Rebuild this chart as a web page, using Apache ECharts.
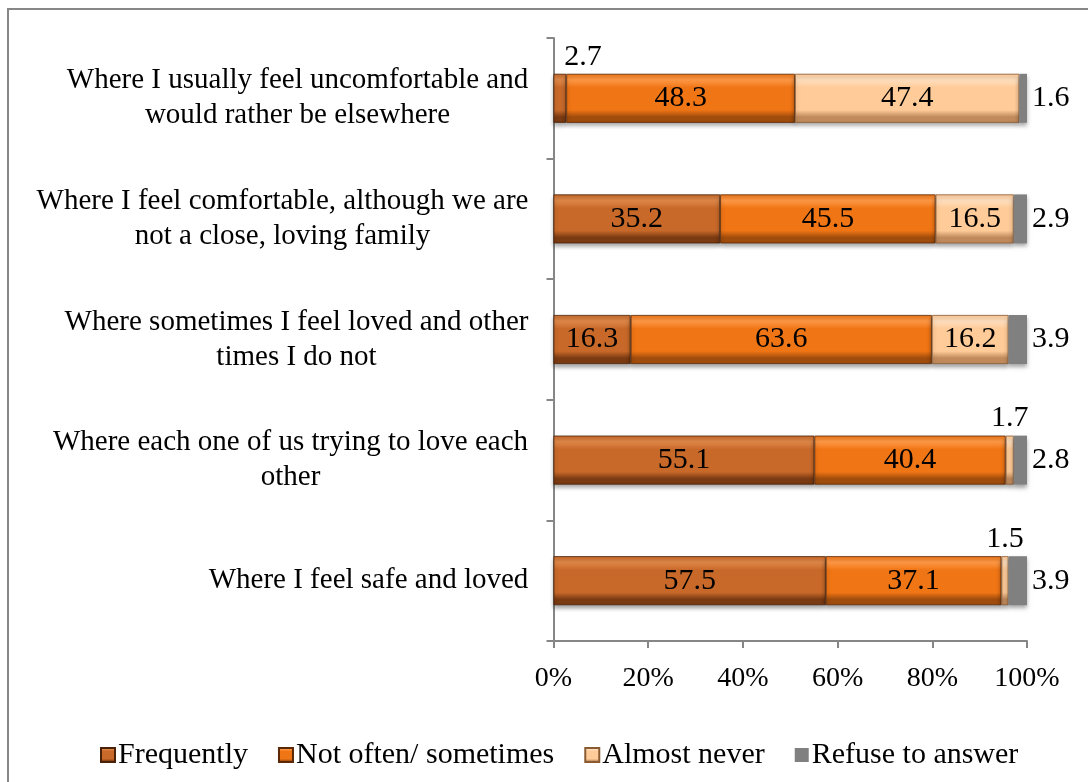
<!DOCTYPE html>
<html>
<head>
<meta charset="utf-8">
<script src="https://cdn.jsdelivr.net/npm/echarts@6/dist/echarts.min.js"></script>
<style>
  html, body { margin: 0; padding: 0; background: #fff; }
  #main { width: 1088px; height: 782px; }
</style>
</head>
<body>
<div id="main"></div>
<script>
// categories, top to bottom
const categories = [
  'Where I usually feel uncomfortable and\nwould rather be elsewhere',
  'Where I feel comfortable, although we are\nnot a close, loving family',
  'Where sometimes I feel loved and other\ntimes I do not',
  'Where each one of us trying to love each\nother',
  'Where I feel safe and loved'
]
const frequently = [2.7, 35.2, 16.3, 55.1, 57.5]
const notOften = [48.3, 45.5, 63.6, 40.4, 37.1]
const almostNever = [47.4, 16.5, 16.2, 1.7, 1.5]
const refuse = [1.6, 2.9, 3.9, 2.8, 3.9]
const xTicks = [0, 20, 40, 60, 80, 100]

const FONT = "'Liberation Serif', 'Times New Roman', serif"

// measure label lines so two-line labels are centred inside a right aligned block
const ctx = document.createElement('canvas').getContext('2d')
ctx.font = '29px ' + FONT
const rich = {}
categories.forEach((c, i) => {
  const w = Math.max(...c.split('\n').map(l => ctx.measureText(l).width))
  rich['r' + i] = { width: Math.ceil(w), align: 'center', fontSize: 29, fontFamily: FONT, color: '#000', lineHeight: 35 }
})

function bevel(light, base, dark) {
  return new echarts.graphic.LinearGradient(0, 0, 0, 1, [
    { offset: 0, color: base },
    { offset: 0.12, color: light },
    { offset: 0.28, color: base },
    { offset: 0.74, color: base },
    { offset: 0.88, color: dark },
    { offset: 1, color: dark }
  ])
}

const shadow = { shadowColor: 'rgba(0,0,0,0.35)', shadowBlur: 4, shadowOffsetY: 3 }

const baseLabel = { show: true, position: 'inside', fontSize: 30, fontFamily: FONT, color: '#000' }

const chart = echarts.init(document.getElementById('main'))
chart.setOption({
  animation: false,
  textStyle: { fontFamily: FONT },
  graphic: [{
    type: 'rect',
    shape: { x: 8, y: 9, width: 1200, height: 900 },
    style: { fill: 'none', stroke: '#878787', lineWidth: 2 },
    silent: true
  }],
  grid: { left: 553.5, right: 61, top: 38, bottom: 141 },
  legend: {
    left: 95,
    top: 735,
    icon: 'rect',
    itemWidth: 14,
    itemHeight: 14,
    itemGap: 30,
    textStyle: { fontSize: 30, fontFamily: FONT, color: '#000', padding: [0, 0, 0, -2] },
    data: ['Frequently', 'Not often/ sometimes', 'Almost never', 'Refuse to answer']
  },
  xAxis: {
    type: 'value',
    min: xTicks[0],
    max: xTicks[xTicks.length - 1],
    interval: 20,
    axisLine: { show: true, lineStyle: { color: '#868686', width: 2 } },
    axisTick: { show: true, length: 7, lineStyle: { color: '#868686', width: 2 } },
    splitLine: { show: false },
    axisLabel: { formatter: '{value}%', fontSize: 28, fontFamily: FONT, color: '#000', margin: 24 }
  },
  yAxis: {
    type: 'category',
    inverse: true,
    data: categories,
    axisLine: { show: true, lineStyle: { color: '#868686', width: 2 } },
    axisTick: { show: true, length: 7, lineStyle: { color: '#868686', width: 2 } },
    axisLabel: {
      interval: 0,
      margin: 25,
      formatter: (v, i) => v.split('\n').map(l => '{r' + i + '|' + l + '}').join('\n'),
      rich: rich
    }
  },
  series: [
    {
      name: 'Frequently',
      type: 'bar',
      stack: 'total',
      barWidth: 49,
      itemStyle: Object.assign({ color: bevel('#E0894A', '#C8692A', '#7A3A12'), borderColor: '#4A2208', borderWidth: 0.8 }, shadow),
      label: baseLabel,
      data: frequently.map((v, i) => i === 0
        ? { value: v, label: { position: 'top', distance: 2, offset: [23, 0] } }
        : v)
    },
    {
      name: 'Not often/ sometimes',
      type: 'bar',
      stack: 'total',
      itemStyle: Object.assign({ color: bevel('#FF9A48', '#F07515', '#A04C0C'), borderColor: '#5A2806', borderWidth: 0.8 }, shadow),
      label: baseLabel,
      data: notOften
    },
    {
      name: 'Almost never',
      type: 'bar',
      stack: 'total',
      itemStyle: Object.assign({ color: bevel('#FFE0C0', '#FFCB98', '#C08A5C'), borderColor: '#8A5A32', borderWidth: 0.8 }, shadow),
      label: baseLabel,
      data: almostNever.map(v => v < 5
        ? { value: v, label: { position: 'top', distance: 2 } }
        : v)
    },
    {
      name: 'Refuse to answer',
      type: 'bar',
      stack: 'total',
      itemStyle: Object.assign({ color: '#808080' }, shadow),
      label: Object.assign({}, baseLabel, { position: 'right', distance: 5 }),
      data: refuse
    }
  ]
})
</script>
</body>
</html>
